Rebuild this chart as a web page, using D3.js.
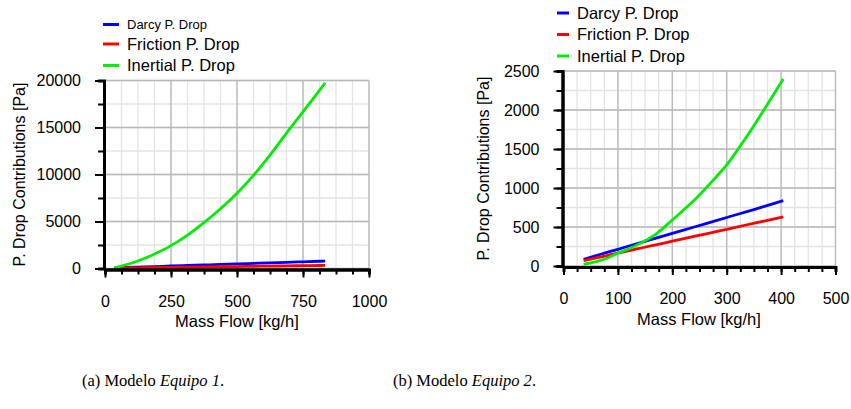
<!DOCTYPE html>
<html>
<head>
<meta charset="utf-8">
<script src="https://cdn.jsdelivr.net/npm/d3@7"></script>
<style>
  body { margin: 0; background: #fff; }
  svg { display: block; font-family: "Liberation Sans", Arial, sans-serif; }
  .caption { font-family: "Liberation Serif", "DejaVu Serif", serif; font-size: 16.5px; }
</style>
</head>
<body>
<svg id="chart" width="851" height="409"></svg>
<script>
// panel (a) Equipo 1
const flowA = [36, 62.5, 125, 187.5, 250, 312.5, 375, 437.5, 500, 562.5, 625, 687.5, 750, 812.5, 834];
const darcyA = [70, 95, 150, 205, 265, 320, 375, 430, 490, 545, 600, 660, 715, 770, 790];
const frictionA = [45, 55, 77, 100, 120, 145, 165, 190, 210, 235, 255, 280, 300, 320, 330];
const inertialA = [80, 266, 800, 1540, 2430, 3560, 4880, 6350, 8000, 9900, 12050, 14400, 16670, 18950, 19760];

// panel (b) Equipo 2
const flowB = [37, 60, 80, 100, 125, 145, 170, 200, 242, 279, 300, 322, 353, 371, 404];
const darcyB = [86, 133, 174, 214, 266, 306, 357, 418, 503, 579, 622, 667, 730, 767, 837];
const frictionB = [68, 103, 134, 165, 203, 234, 272, 318, 382, 439, 471, 505, 553, 580, 631];
const inertialB = [22, 55, 100, 165, 235, 306, 410, 590, 855, 1130, 1295, 1509, 1830, 2030, 2397];

const seriesNames = ["Darcy P. Drop", "Friction P. Drop", "Inertial P. Drop"];
const seriesColors = ["#0000ff", "#ff0000", "#00ee00"];

const xTicksA = [0, 250, 500, 750, 1000];
const yTicksA = [0, 5000, 10000, 15000, 20000];
const xTicksB = [0, 100, 200, 300, 400, 500];
const yTicksB = [0, 500, 1000, 1500, 2000, 2500];

const captions = [["(a) Modelo ", "Equipo 1", "."], ["(b) Modelo ", "Equipo 2", "."]];

const svg = d3.select("#chart");

function drawPanel(p) {
    const x = d3.scaleLinear().domain([0, p.xMax]).range([p.left, p.right]);
    const y = d3.scaleLinear().domain([0, p.yMax]).range([p.bottom, p.top]);
    const g = svg.append("g");

    // minor grid
    g.append("g").selectAll("line").data(d3.range(0, p.xMax + 1e-6, p.xMinor))
        .join("line")
        .attr("x1", d => x(d)).attr("x2", d => x(d))
        .attr("y1", p.top).attr("y2", p.bottom)
        .attr("stroke", "#e4e4e4").attr("stroke-width", 1.3);
    g.append("g").selectAll("line").data(d3.range(0, p.yMax + 1e-6, p.yMinor))
        .join("line")
        .attr("y1", d => y(d)).attr("y2", d => y(d))
        .attr("x1", p.left).attr("x2", p.right)
        .attr("stroke", "#e4e4e4").attr("stroke-width", 1.3);
    // major grid
    g.append("g").selectAll("line").data(p.xTicks)
        .join("line")
        .attr("x1", d => x(d)).attr("x2", d => x(d))
        .attr("y1", p.top).attr("y2", p.bottom)
        .attr("stroke", "#b8b8b8").attr("stroke-width", 1.3);
    g.append("g").selectAll("line").data(p.yTicks)
        .join("line")
        .attr("y1", d => y(d)).attr("y2", d => y(d))
        .attr("x1", p.left).attr("x2", p.right)
        .attr("stroke", "#b8b8b8").attr("stroke-width", 1.3);

    // lines
    const line = d3.line().curve(d3.curveMonotoneX);
    p.series.forEach((vals, i) => {
        g.append("path")
            .attr("d", line(p.flow.map((f, j) => [x(f), y(vals[j])])))
            .attr("fill", "none")
            .attr("stroke", seriesColors[i])
            .attr("stroke-width", 2.8);
    });

    // minor ticks
    const yMinorAxis = d3.axisLeft(y).tickValues(d3.range(0, p.yMax + 1e-6, p.yMinor))
        .tickSize(6).tickFormat("");
    const xMinorAxis = d3.axisBottom(x).tickValues(d3.range(0, p.xMax + 1e-6, p.xMinor))
        .tickSize(5).tickFormat("");
    g.append("g").attr("transform", `translate(${p.left - 1},0)`).call(yMinorAxis);
    g.append("g").attr("transform", `translate(0,${p.bottom + 1})`).call(xMinorAxis);

    // major ticks and labels
    const yAxis = d3.axisLeft(y).tickValues(p.yTicks).tickSize(9).tickSizeOuter(0)
        .tickPadding(14).tickFormat(d3.format("d"));
    const xAxis = d3.axisBottom(x).tickValues(p.xTicks).tickSize(8).tickSizeOuter(0)
        .tickPadding(18).tickFormat(d3.format("d"));
    g.append("g").attr("transform", `translate(${p.left - 1},0)`).call(yAxis);
    g.append("g").attr("transform", `translate(0,${p.bottom + 1})`).call(xAxis);

    g.selectAll(".domain").attr("stroke", "#000").attr("stroke-width", 3);
    g.selectAll(".tick line").attr("stroke", "#000").attr("stroke-width", 2);
    g.selectAll(".tick text").attr("fill", "#000").style("font-size", "16px")
        .style("font-family", "'Liberation Sans', Arial, sans-serif");

    // axis titles
    g.append("text")
        .attr("x", p.xLabel[0]).attr("y", p.xLabel[1])
        .attr("text-anchor", "middle").style("font-size", "16.5px")
        .text("Mass Flow [kg/h]");
    g.append("text")
        .attr("transform", `translate(${p.yLabel[0]},${p.yLabel[1]}) rotate(-90)`)
        .attr("text-anchor", "middle").style("font-size", "16px")
        .text("P. Drop Contributions [Pa]");

    // legend
    seriesNames.forEach((name, i) => {
        const ly = p.legend.y[i];
        g.append("line")
            .attr("x1", p.legend.x1).attr("x2", p.legend.x2)
            .attr("y1", ly).attr("y2", ly)
            .attr("stroke", seriesColors[i]).attr("stroke-width", 3);
        g.append("text")
            .attr("x", p.legend.tx).attr("y", ly).attr("dy", "0.36em")
            .style("font-size", p.legend.sizes[i] + "px")
            .text(name);
    });

    // caption
    const c = g.append("text").attr("class", "caption")
        .attr("x", p.caption[0]).attr("y", p.caption[1]);
    c.append("tspan").text(p.captionText[0]);
    c.append("tspan").style("font-style", "italic").text(p.captionText[1]);
    c.append("tspan").text(p.captionText[2]);
}

drawPanel({
    left: 105, right: 369, top: 80.5, bottom: 268.5,
    xMax: 1000, yMax: 20000, xMinor: 62.5, yMinor: 2500,
    xTicks: xTicksA, yTicks: yTicksA,
    flow: flowA, series: [darcyA, frictionA, inertialA],
    xLabel: [237, 327], yLabel: [25, 174.5],
    legend: { x1: 103, x2: 119, tx: 127, y: [24.5, 44, 65.5], sizes: [13, 16.5, 16.5] },
    caption: [82, 386], captionText: captions[0]
});

drawPanel({
    left: 563.5, right: 835.5, top: 71, bottom: 266,
    xMax: 500, yMax: 2500, xMinor: 25, yMinor: 250,
    xTicks: xTicksB, yTicks: yTicksB,
    flow: flowB, series: [darcyB, frictionB, inertialB],
    xLabel: [699, 324.5], yLabel: [489, 168.5],
    legend: { x1: 557, x2: 569, tx: 577, y: [13, 34.5, 56], sizes: [16.5, 16.5, 16.5] },
    caption: [393, 386], captionText: captions[1]
});
</script>
</body>
</html>
